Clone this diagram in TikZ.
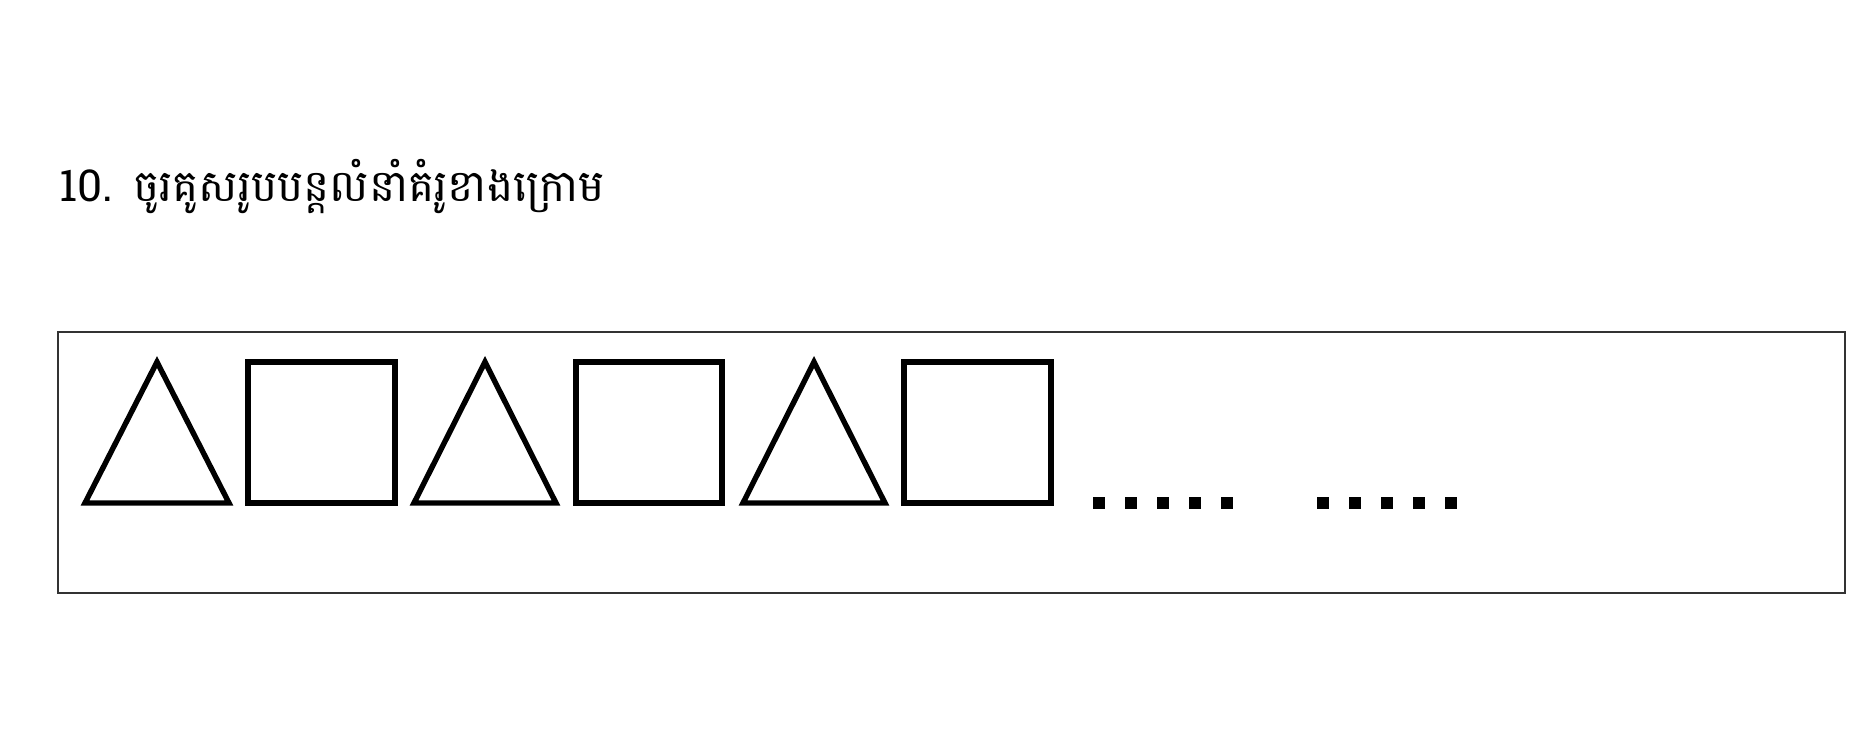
\documentclass[tikz,border=0pt]{standalone}
\usepackage{fontspec}
\newfontfamily\khmerfont[Script=Khmer]{Battambang}
\begin{document}
\begin{tikzpicture}[x=0.5pt,y=-0.5pt,
  figline/.style={line width=2.7pt, line join=miter, draw=black},
  dotsq/.style={fill=black},
  frame/.style={draw=black!80, line width=0.8pt}]
\useasboundingbox (0,0) rectangle (1860,750);
\node[anchor=base west, inner sep=0pt, font=\khmerfont\fontsize{22}{26}\selectfont] (title) at (59,201) {10.\hspace{10pt}ចូរគូសរូបបន្តលំនាំគំរូខាងក្រោម};
\draw[frame] (58,332) rectangle (1845,593);
% triangles and squares
\draw[figline] (85,503) -- (157,362) -- (229,503) -- cycle;
\draw[figline] (248,362) rectangle (395,503);
\draw[figline] (414,503) -- (485,362) -- (556,503) -- cycle;
\draw[figline] (576,362) rectangle (722,503);
\draw[figline] (743,503) -- (814,362) -- (885,503) -- cycle;
\draw[figline] (904,362) rectangle (1051,503);
% dots
\foreach \x in {1099,1131,1163,1195,1227,1323,1355,1387,1419,1451}
  \fill[dotsq] (\x-6,497) rectangle (\x+6,509);
\end{tikzpicture}
\end{document}
